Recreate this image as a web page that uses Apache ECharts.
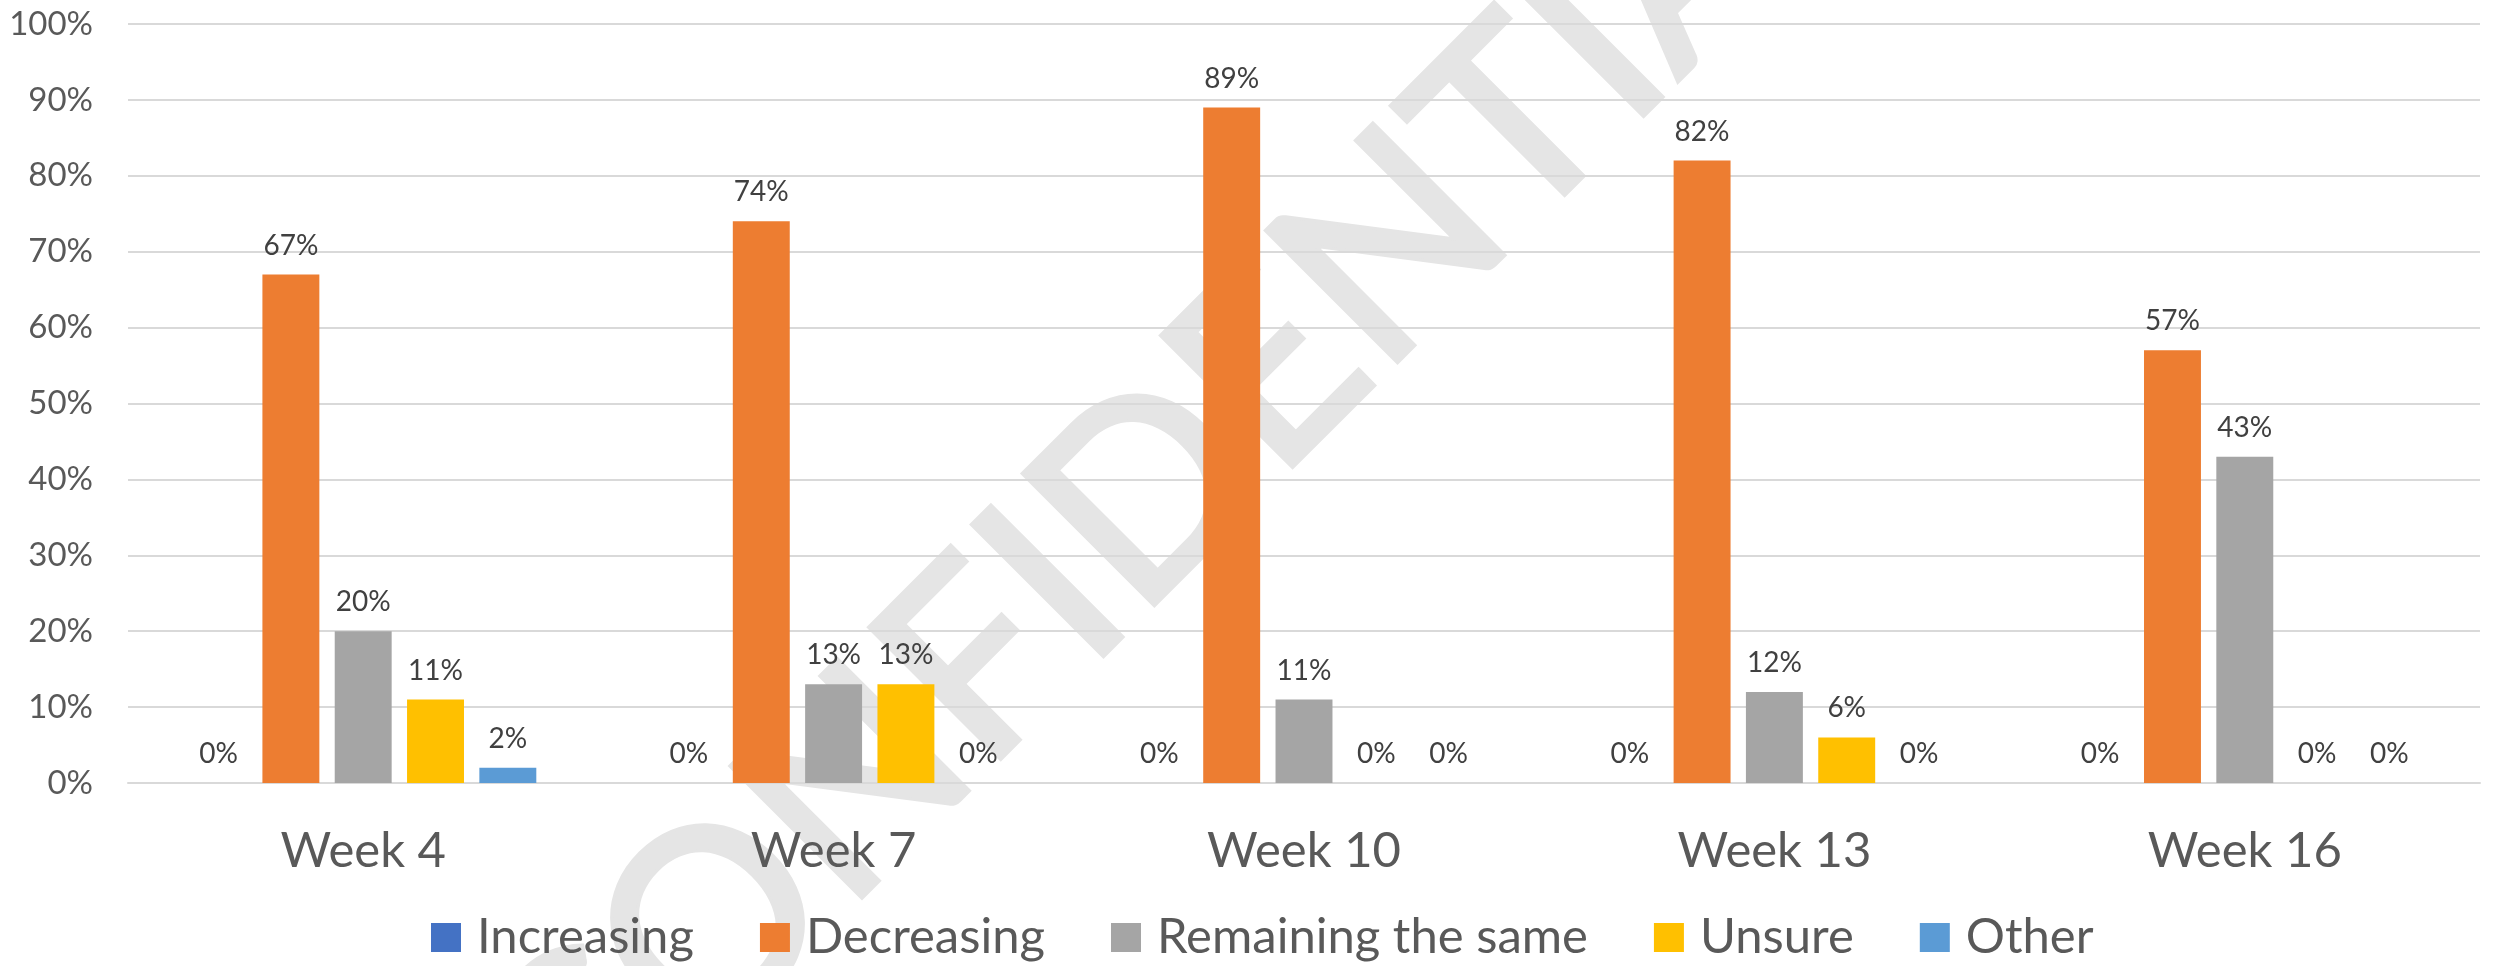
<!DOCTYPE html>
<html>
<head>
<meta charset="utf-8">
<script src="https://cdn.jsdelivr.net/npm/echarts@6/dist/echarts.min.js"></script>
<style>
  html, body { margin: 0; padding: 0; background: #fff; }
  #chart { width: 2496px; height: 966px; }
</style>
</head>
<body>
<div id="chart"></div>
<script>
const weeks = ['Week 4', 'Week 7', 'Week 10', 'Week 13', 'Week 16'];
const increasing = [0, 0, 0, 0, 0];
const decreasing = [67, 74, 89, 82, 57];
const remainingSame = [20, 13, 11, 12, 43];
const unsure = [11, 13, 0, 6, 0];
const other = [2, 0, 0, 0, 0];
const seriesNames = ['Increasing', 'Decreasing', 'Remaining the same', 'Unsure', 'Other'];
const colors = ['#4472C4', '#ED7D31', '#A5A5A5', '#FFC000', '#5B9BD5'];

const font = 'Lato';
const myChart = echarts.init(document.getElementById('chart'));

function makeSeries(name, data, color) {
  return {
    name: name,
    type: 'bar',
    data: data,
    barGap: '27%',
    barCategoryGap: '26.4%',
    itemStyle: { color: color },
    label: {
      show: true,
      position: 'top',
      distance: 15,
      formatter: '{c}%',
      color: '#404040',
      fontFamily: font,
      fontSize: 28
    }
  };
}

myChart.setOption({
  animation: false,
  color: colors,
  grid: { left: 128, right: 16, top: 24, bottom: 183, containLabel: false },
  legend: {
    data: seriesNames,
    top: 913,
    left: 431,
    padding: 0,
    icon: 'rect',
    itemWidth: 30,
    itemHeight: 29,
    itemGap: 66,
    textStyle: { color: '#595959', fontFamily: font, fontSize: 49, padding: [0, 0, 0, 11] }
  },
  // watermark behind the plot
  graphic: [{
    type: 'text',
    z: -10,
    x: 1179,
    y: 462,
    rotation: Math.PI / 4,
    style: {
      text: 'CONFIDENTIAL',
      fill: '#e5e5e5',
      stroke: '#e5e5e5',
      lineWidth: 6,
      lineJoin: 'round',
      fontFamily: font,
      fontSize: 257,
      align: 'center',
      verticalAlign: 'middle'
    }
  }],
  xAxis: {
    type: 'category',
    data: weeks,
    axisLine: { lineStyle: { color: '#d9d9d9', width: 2 } },
    axisTick: { show: false },
    axisLabel: { color: '#595959', fontFamily: font, fontSize: 49, margin: 44 }
  },
  yAxis: {
    type: 'value',
    min: 0,
    max: 100,
    interval: 10,
    axisLine: { show: false },
    axisTick: { show: false },
    splitLine: { lineStyle: { color: '#d9d9d9', width: 2 } },
    axisLabel: { formatter: '{value}%', color: '#595959', fontFamily: font, fontSize: 33, margin: 35 }
  },
  series: [
    makeSeries(seriesNames[0], increasing, colors[0]),
    makeSeries(seriesNames[1], decreasing, colors[1]),
    makeSeries(seriesNames[2], remainingSame, colors[2]),
    makeSeries(seriesNames[3], unsure, colors[3]),
    makeSeries(seriesNames[4], other, colors[4])
  ]
});

window.addEventListener('resize', function () {
  myChart.resize();
});
</script>
</body>
</html>
